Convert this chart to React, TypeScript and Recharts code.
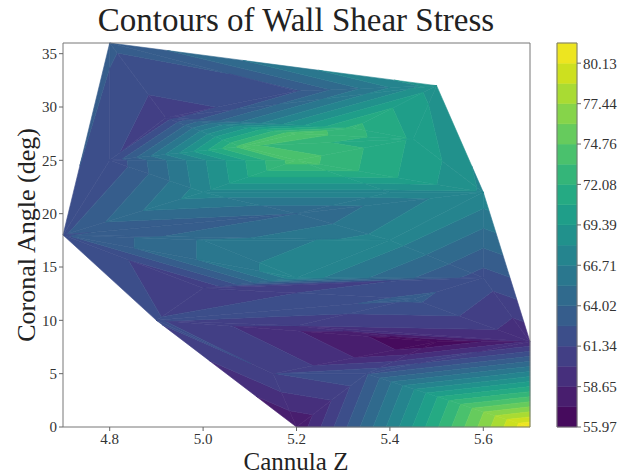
import React from 'react';
import * as Recharts from 'recharts';

const RA: any = Recharts;
const { ComposedChart, Scatter, XAxis, YAxis, ReferenceArea, Customized } = RA;

// ---- data ----
const pointZ = [4.7, 4.8, 5.5, 5.6, 5.7, 5.7, 5.2, 4.9, 4.92, 4.8, 5.2, 5.2, 5.2, 5.08, 5.32, 5.45, 5.0, 5.4, 5.2, 5.0, 5.2, 5.4, 5.0, 5.6, 5.2, 5.5, 5.35, 5.45, 5.15];
const pointAngle = [18, 36, 32, 22, 8, 0, 0, 10, 29, 25, 31.5, 27.5, 25, 26.3, 28, 27, 22, 22, 20, 17.5, 14, 17.5, 13, 14, 9.5, 8, 5, 12, 5];
const pointStress = [62.5, 63.0, 68.8, 67.8, 58.8, 81.47, 57.5, 61.5, 60.6, 61.5, 62.5, 74.5, 74.2, 73.8, 72.5, 70.5, 67.5, 67.5, 64.0, 65.5, 67.5, 67.5, 60.0, 62.0, 60.0, 55.97, 62.5, 63.0, 61.3];

const xTicks = [4.8, 5.0, 5.2, 5.4, 5.6];
const yTicks = [0, 5, 10, 15, 20, 25, 30, 35];
const colorbarTicks = [55.97, 58.65, 61.34, 64.02, 66.71, 69.39, 72.08, 74.76, 77.44, 80.13];
const levelMin = 55.97;
const levelMax = 81.47;
const levelCount = 20;

const xDomain = [4.7, 5.7];
const yDomain = [0, 36];

const viridisStops = ['#440154', '#48186a', '#472d7b', '#424086', '#3b528b', '#33638d', '#2c728e', '#26828e', '#21918c', '#1fa088', '#28ae80', '#3fbc73', '#5ec962', '#84d44b', '#addc30', '#d8e219', '#fde725'];

function hexToRgb(h: string) {
  return [parseInt(h.slice(1, 3), 16), parseInt(h.slice(3, 5), 16), parseInt(h.slice(5, 7), 16)];
}
function viridis(t: number) {
  const n = viridisStops.length - 1;
  const p = Math.max(0, Math.min(1, t)) * n;
  const i = Math.min(n - 1, Math.floor(p));
  const f = p - i;
  const a = hexToRgb(viridisStops[i]);
  const b = hexToRgb(viridisStops[i + 1]);
  const c = a.map((v, k) => Math.round(v + (b[k] - v) * f));
  return `rgb(${c[0]},${c[1]},${c[2]})`;
}

const levels: number[] = [];
for (let i = 0; i < levelCount; i++) levels.push(levelMin + ((levelMax - levelMin) * i) / (levelCount - 1));
const bands = levels.slice(0, -1).map((lo, i) => ({
  lo,
  hi: levels[i + 1],
  color: viridis((i + 0.5) / (levelCount - 1)),
}));

const points = pointZ.map((x, i) => ({ x, y: pointAngle[i], f: pointStress[i] }));

// ---- Delaunay triangulation (Bowyer-Watson) in data coordinates ----
type P = { x: number; y: number; f: number };
function delaunay(pts: P[]) {
  const all = pts.map((p) => ({ x: p.x, y: p.y }));
  const cx = 5.2, cy = 18, S = 5000;
  all.push({ x: cx - S, y: cy - S }, { x: cx + S, y: cy - S }, { x: cx, y: cy + S });
  const n = pts.length;
  let tris: number[][] = [[n, n + 1, n + 2]];
  const circ = (t: number[]) => {
    const [a, b, c] = t.map((i) => all[i]);
    const d = 2 * (a.x * (b.y - c.y) + b.x * (c.y - a.y) + c.x * (a.y - b.y));
    const ux = ((a.x * a.x + a.y * a.y) * (b.y - c.y) + (b.x * b.x + b.y * b.y) * (c.y - a.y) + (c.x * c.x + c.y * c.y) * (a.y - b.y)) / d;
    const uy = ((a.x * a.x + a.y * a.y) * (c.x - b.x) + (b.x * b.x + b.y * b.y) * (a.x - c.x) + (c.x * c.x + c.y * c.y) * (b.x - a.x)) / d;
    return { ux, uy, r2: (a.x - ux) ** 2 + (a.y - uy) ** 2 };
  };
  for (let i = 0; i < n; i++) {
    const p = all[i];
    const bad: number[][] = [];
    const good: number[][] = [];
    for (const t of tris) {
      const c = circ(t);
      if ((p.x - c.ux) ** 2 + (p.y - c.uy) ** 2 < c.r2 - 1e-9) bad.push(t);
      else good.push(t);
    }
    const edges = new Map<string, number[]>();
    const counts = new Map<string, number>();
    for (const t of bad) {
      for (let k = 0; k < 3; k++) {
        const a = t[k], b = t[(k + 1) % 3];
        const key = a < b ? `${a}-${b}` : `${b}-${a}`;
        counts.set(key, (counts.get(key) || 0) + 1);
        edges.set(key, [a, b]);
      }
    }
    tris = good;
    counts.forEach((c, key) => {
      if (c === 1) {
        const [a, b] = edges.get(key)!;
        tris.push([a, b, i]);
      }
    });
  }
  return tris.filter((t) => t.every((i) => i < n));
}

function clip(poly: P[], level: number, keepAbove: boolean) {
  const out: P[] = [];
  for (let i = 0; i < poly.length; i++) {
    const a = poly[i];
    const b = poly[(i + 1) % poly.length];
    const ia = keepAbove ? a.f >= level : a.f <= level;
    const ib = keepAbove ? b.f >= level : b.f <= level;
    if (ia) out.push(a);
    if (ia !== ib) {
      const t = (level - a.f) / (b.f - a.f);
      out.push({ x: a.x + t * (b.x - a.x), y: a.y + t * (b.y - a.y), f: level });
    }
  }
  return out;
}

const triangles = delaunay(points);
const bandPolys: { color: string; poly: P[] }[] = [];
triangles.forEach((t) => {
  const tri = t.map((i) => points[i]);
  bands.forEach((b, bi) => {
    let poly = clip(tri, bi === 0 ? b.lo - 1e-6 : b.lo, true);
    if (poly.length < 3) return;
    poly = clip(poly, bi === bands.length - 1 ? b.hi + 1e-6 : b.hi, false);
    if (poly.length < 3) return;
    bandPolys.push({ color: b.color, poly });
  });
});

const PLOT = { left: 63, top: 43, width: 467, height: 384 };

function ContourLayer() {
  const pa = RA.usePlotArea ? RA.usePlotArea() : null;
  const area = pa && pa.width ? pa : { x: PLOT.left, y: PLOT.top, width: PLOT.width, height: PLOT.height };
  const sx = (v: number) => area.x + ((v - xDomain[0]) / (xDomain[1] - xDomain[0])) * area.width;
  const sy = (v: number) => area.y + area.height - ((v - yDomain[0]) / (yDomain[1] - yDomain[0])) * area.height;
  return (
    <g>
      {bandPolys.map((bp, i) => (
        <polygon
          key={i}
          points={bp.poly.map((p) => `${sx(p.x).toFixed(2)},${sy(p.y).toFixed(2)}`).join(' ')}
          fill={bp.color}
          stroke={bp.color}
          strokeWidth={0.6}
          strokeLinejoin="round"
        />
      ))}
    </g>
  );
}

function Labels() {
  return (
    <g fontFamily="'Liberation Serif', serif" fill="#222">
      <text x={296} y={31} textAnchor="middle" fontSize={33}>Contours of Wall Shear Stress</text>
      <text x={296} y={470} textAnchor="middle" fontSize={25}>Cannula Z</text>
      <text x={0} y={0} transform="translate(35,235) rotate(-90)" textAnchor="middle" fontSize={26}>Coronal Angle (deg)</text>
    </g>
  );
}

const tickStyle = { fontFamily: "'Liberation Serif', serif", fontSize: 15, fill: '#333' };

export default function App() {
  const scatterData = points.map((p) => ({ z: p.x, angle: p.y, stress: p.f }));
  const cbData = [{ u: 0 }, { u: 1 }];
  return (
    <div style={{ position: 'absolute', left: 0, top: 0, width: 631, height: 476, background: '#fff' }}>
      <div style={{ position: 'absolute', left: 0, top: 0 }}>
        <ComposedChart width={631} height={476} margin={{ top: 43, right: 101, bottom: 19, left: 13 }}>
          <XAxis
            type="number"
            dataKey="z"
            domain={xDomain}
            ticks={xTicks}
            allowDataOverflow
            tickFormatter={(v: number) => v.toFixed(1)}
            axisLine={false}
            tickLine={{ stroke: '#666' }}
            tickSize={4}
            tick={tickStyle}
            height={30}
          />
          <YAxis
            type="number"
            dataKey="angle"
            domain={yDomain}
            ticks={yTicks}
            allowDataOverflow
            axisLine={false}
            tickLine={{ stroke: '#666' }}
            tickSize={4}
            tick={tickStyle}
            width={50}
          />
          <Customized component={ContourLayer} />
          <Scatter data={scatterData} dataKey="angle" isAnimationActive={false} shape={() => <g />} />
          <ReferenceArea x1={xDomain[0]} x2={xDomain[1]} y1={yDomain[0]} y2={yDomain[1]} fill="none" fillOpacity={0} stroke="#777" strokeWidth={1} ifOverflow="visible" />
          <Customized component={Labels} />
        </ComposedChart>
      </div>
      <div style={{ position: 'absolute', left: 540, top: 0 }}>
        <ComposedChart width={91} height={476} data={cbData} margin={{ top: 43, right: 4, bottom: 49, left: 17 }}>
          <XAxis type="number" dataKey="u" domain={[0, 1]} hide />
          <YAxis
            yAxisId="cb"
            orientation="right"
            type="number"
            domain={[levelMin, levelMax]}
            ticks={colorbarTicks}
            allowDataOverflow
            tickFormatter={(v: number) => v.toFixed(2)}
            axisLine={false}
            tickLine={{ stroke: '#666' }}
            tickSize={4}
            tick={tickStyle}
            width={50}
          />
          {bands.map((b, i) => (
            <ReferenceArea key={i} yAxisId="cb" x1={0} x2={1} y1={b.lo} y2={b.hi} fill={b.color} fillOpacity={1} stroke={b.color} strokeWidth={0.5} ifOverflow="visible" />
          ))}
          <ReferenceArea yAxisId="cb" x1={0} x2={1} y1={levelMin} y2={levelMax} fill="none" fillOpacity={0} stroke="#777" strokeWidth={1} ifOverflow="visible" />
        </ComposedChart>
      </div>
    </div>
  );
}
